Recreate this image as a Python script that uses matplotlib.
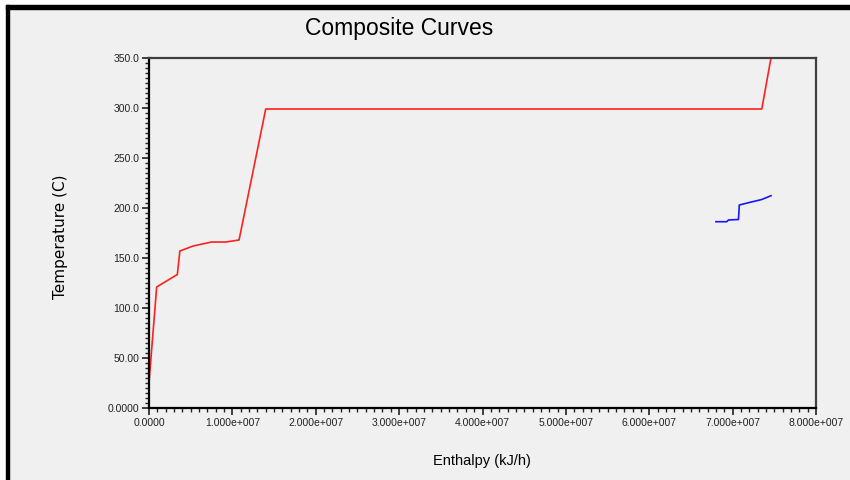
import matplotlib
matplotlib.use("Agg")
import matplotlib.pyplot as plt
from matplotlib.patches import Rectangle
from matplotlib.ticker import MultipleLocator, FuncFormatter

# hot composite curve (enthalpy kJ/h, temperature C)
hot_h = [0.0, 0.092e7, 0.34e7, 0.37e7, 0.53e7, 0.75e7, 0.92e7, 1.08e7, 1.40e7, 7.35e7, 7.46e7]
hot_t = [25.0, 121.0, 133.5, 157.0, 162.0, 166.0, 166.0, 168.0, 299.0, 299.0, 350.0]

# cold composite curve
cold_h = [6.80e7, 6.93e7, 6.95e7, 7.07e7, 7.08e7, 7.20e7, 7.35e7, 7.46e7]
cold_t = [186.3, 186.3, 188.0, 188.5, 203.0, 205.5, 208.5, 212.3]

y_labels = {0: "0.0000", 50: "50.00"}

W, H = 850, 480
bg = "#f0f0f0"
fig = plt.figure(figsize=(W / 100, H / 100), dpi=100, facecolor=bg)

# window frame: white strip then black bar along top and left
fig.patches.append(Rectangle((0, 1 - 5 / H), 1, 5 / H, transform=fig.transFigure, color="white", zorder=0))
fig.patches.append(Rectangle((0, 0), 6 / W, 1, transform=fig.transFigure, color="white", zorder=0))
fig.patches.append(Rectangle((6 / W, 1 - 9 / H), 1, 4 / H, transform=fig.transFigure, color="black", zorder=1))
fig.patches.append(Rectangle((6 / W, 0), 3 / W, 1 - 5 / H, transform=fig.transFigure, color="black", zorder=1))

ax = fig.add_axes([149 / W, 1 - 408 / H, (816 - 149) / W, (408 - 58) / H])
ax.set_facecolor(bg)

ax.plot(hot_h, hot_t, color="#ff2020", lw=1.2, clip_on=True)
ax.plot(cold_h, cold_t, color="#1515ff", lw=1.2)

ax.set_xlim(0, 8e7)
ax.set_ylim(0, 350)

ax.xaxis.set_major_locator(MultipleLocator(1e7))
ax.xaxis.set_minor_locator(MultipleLocator(1e6))
ax.yaxis.set_major_locator(MultipleLocator(50))
ax.yaxis.set_minor_locator(MultipleLocator(5))

def xfmt(v, pos):
    if v == 0:
        return "0.0000"
    return "%.3fe+%03d" % (v / 1e7, 7)

def yfmt(v, pos):
    return y_labels.get(int(round(v)), "%.1f" % v)

ax.xaxis.set_major_formatter(FuncFormatter(xfmt))
ax.yaxis.set_major_formatter(FuncFormatter(yfmt))

tick_font = "Liberation Sans"
ax.tick_params(which="major", direction="out", length=5, width=1.2, color="#222222",
               labelsize=7.5, pad=2)
ax.tick_params(which="minor", direction="out", length=3, width=1.0, color="#222222")
for lab in ax.get_xticklabels() + ax.get_yticklabels():
    lab.set_fontfamily(tick_font)
    lab.set_color("#222222")

for side in ["left", "bottom"]:
    ax.spines[side].set_color("black")
    ax.spines[side].set_linewidth(1.6)
for side in ["top", "right"]:
    ax.spines[side].set_color("#404040")
    ax.spines[side].set_linewidth(1.6)

fig.text(399 / W, 1 - 29 / H, "Composite Curves", ha="center", va="center",
         fontsize=16.5, family="Liberation Sans")
fig.text(60 / W, 1 - 237 / H, "Temperature (C)", ha="center", va="center",
         rotation=90, fontsize=11, family="DejaVu Sans")
fig.text(482 / W, 1 - 461 / H, "Enthalpy (kJ/h)", ha="center", va="center",
         fontsize=10.5, family="Liberation Sans")

fig.savefig("out.png", dpi=100, facecolor=bg)
